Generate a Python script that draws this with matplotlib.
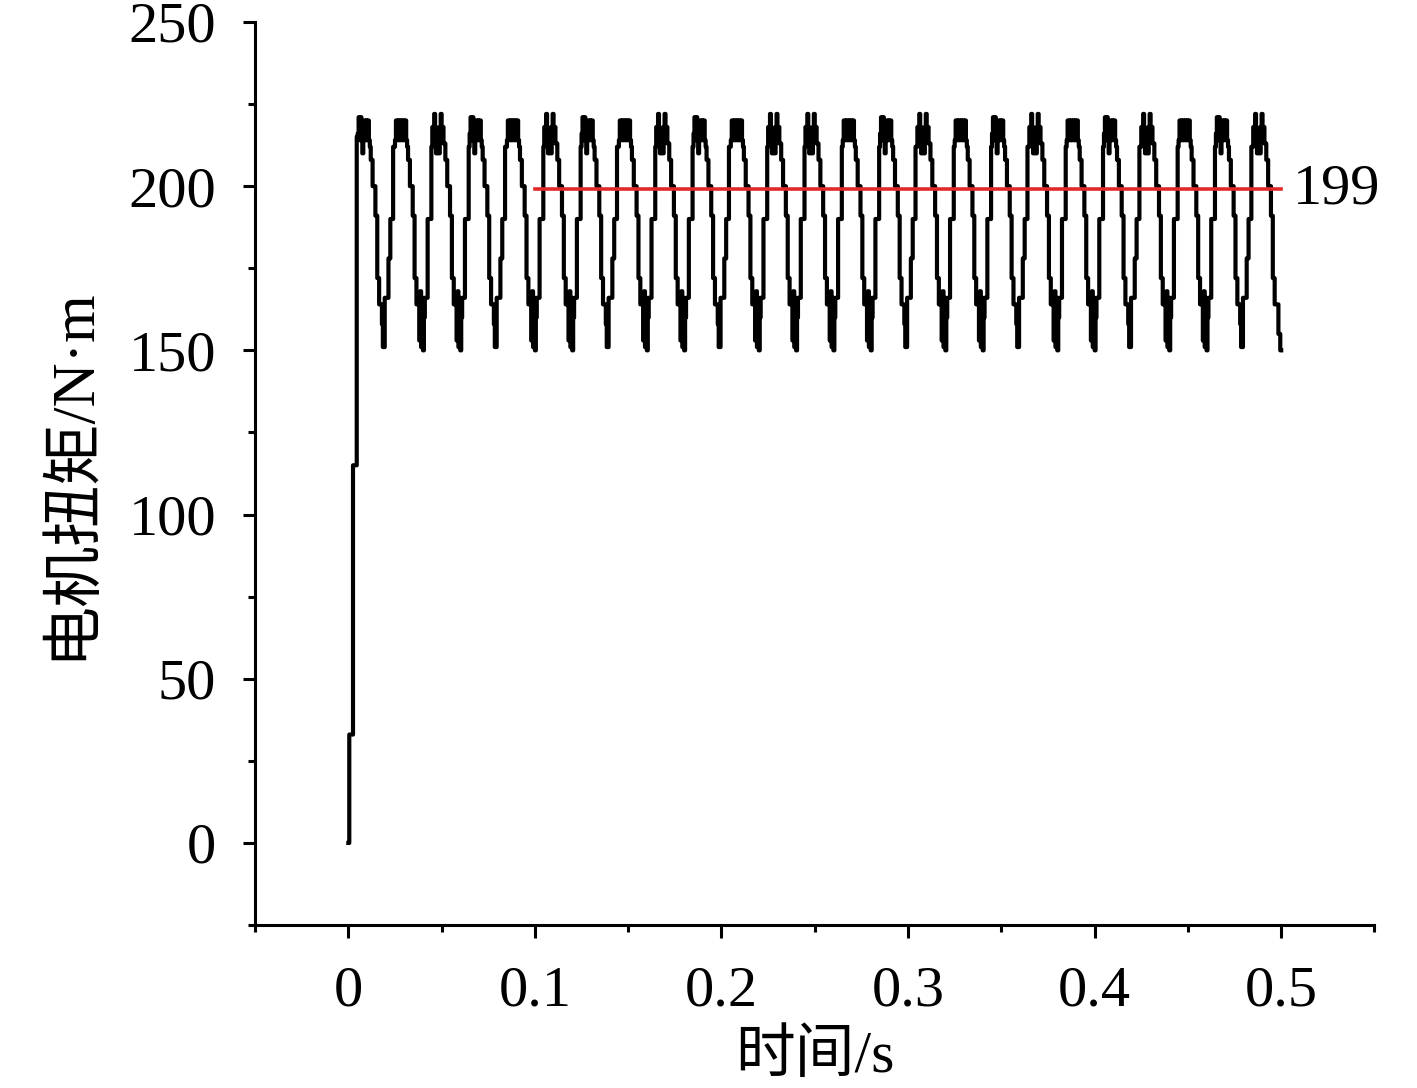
import numpy as np
import matplotlib
matplotlib.use('Agg')
import matplotlib.pyplot as plt
from matplotlib.ticker import MultipleLocator

plt.rcParams['font.family'] = ['Liberation Serif', 'Noto Sans CJK SC']
plt.rcParams['axes.unicode_minus'] = False

dt = 0.0005
startup = [0, 33, 33, 33, 33, 115, 115, 115, 115, 215]

# plateau shapes seen at the peaks (14 samples each)
top_notch = [216, 221, 214, 221, 216, 210, 216, 220, 214, 220, 214, 220, 214, 212]
top_block = [214, 220, 214, 220, 214, 220, 214, 220, 214, 220, 214, 220, 214, 212]
top_m = [218, 218, 222, 218, 210, 210, 210, 210, 218, 222, 218, 218, 213, 213]
fall = [208, 208, 200, 200, 200, 191, 191, 172, 172, 164, 164, 164]
low_thin = [158, 151, 151, 166, 166, 166, 166, 178, 178, 190, 190, 190, 212, 212]
low_fill = [153, 168, 151, 166, 150, 160, 166, 166, 166, 190, 190, 190, 190, 212]
tail = [164, 155, 155, 150, 150]

# peak shape order, one letter per cycle (25 cycles in 0.5 s)
peak_order = "NFMNFMNFMNFMMFNMFNMFNMFNM"
tops = {'N': top_notch, 'F': top_block, 'M': top_m}
lows = {'N': low_thin, 'F': low_fill, 'M': low_fill}

torque = list(startup)
for i, kind in enumerate(peak_order):
    torque += tops[kind] + fall
    torque += lows[kind] if i < len(peak_order) - 1 else tail
torque = np.array(torque, dtype=float)
time = np.arange(len(torque)) * dt

avg_value = 199
avg_start, avg_end = 0.1, 0.5

fig = plt.figure(figsize=(14.17, 10.88), dpi=100)
ax = fig.add_axes([0.18, 0.1498, 0.79, 0.83])

ax.plot(time, torque, color='black', lw=3.0, drawstyle='steps-post')
ax.plot([avg_start, avg_end], [avg_value, avg_value], color='#e02a2a', lw=2.6)
ax.text(avg_end + 0.006, avg_value, str(avg_value), fontsize=42, va='center', ha='left')

ax.set_xlim(-0.05, 0.55)
ax.set_ylim(-25, 250)
ax.xaxis.set_major_locator(MultipleLocator(0.1))
ax.xaxis.set_minor_locator(MultipleLocator(0.05))
ax.yaxis.set_major_locator(MultipleLocator(50))
ax.yaxis.set_minor_locator(MultipleLocator(25))
ax.set_xticks([0, 0.1, 0.2, 0.3, 0.4, 0.5])
ax.set_xticklabels(['0', '0.1', '0.2', '0.3', '0.4', '0.5'])

for s in ['top', 'right']:
    ax.spines[s].set_visible(False)
for s in ['left', 'bottom']:
    ax.spines[s].set_linewidth(2.2)
ax.tick_params(which='major', direction='out', length=9, width=2.2, labelsize=42)
ax.tick_params(axis='y', which='major', pad=19)
ax.tick_params(axis='x', which='major', pad=20)
ax.tick_params(which='minor', direction='out', length=5, width=2.2)

ax.set_xlabel('时间/s', fontsize=43, labelpad=9)
ax.set_ylabel('电机扭矩/N·m', fontsize=44, labelpad=20)

fig.savefig('out.png', dpi=100)
